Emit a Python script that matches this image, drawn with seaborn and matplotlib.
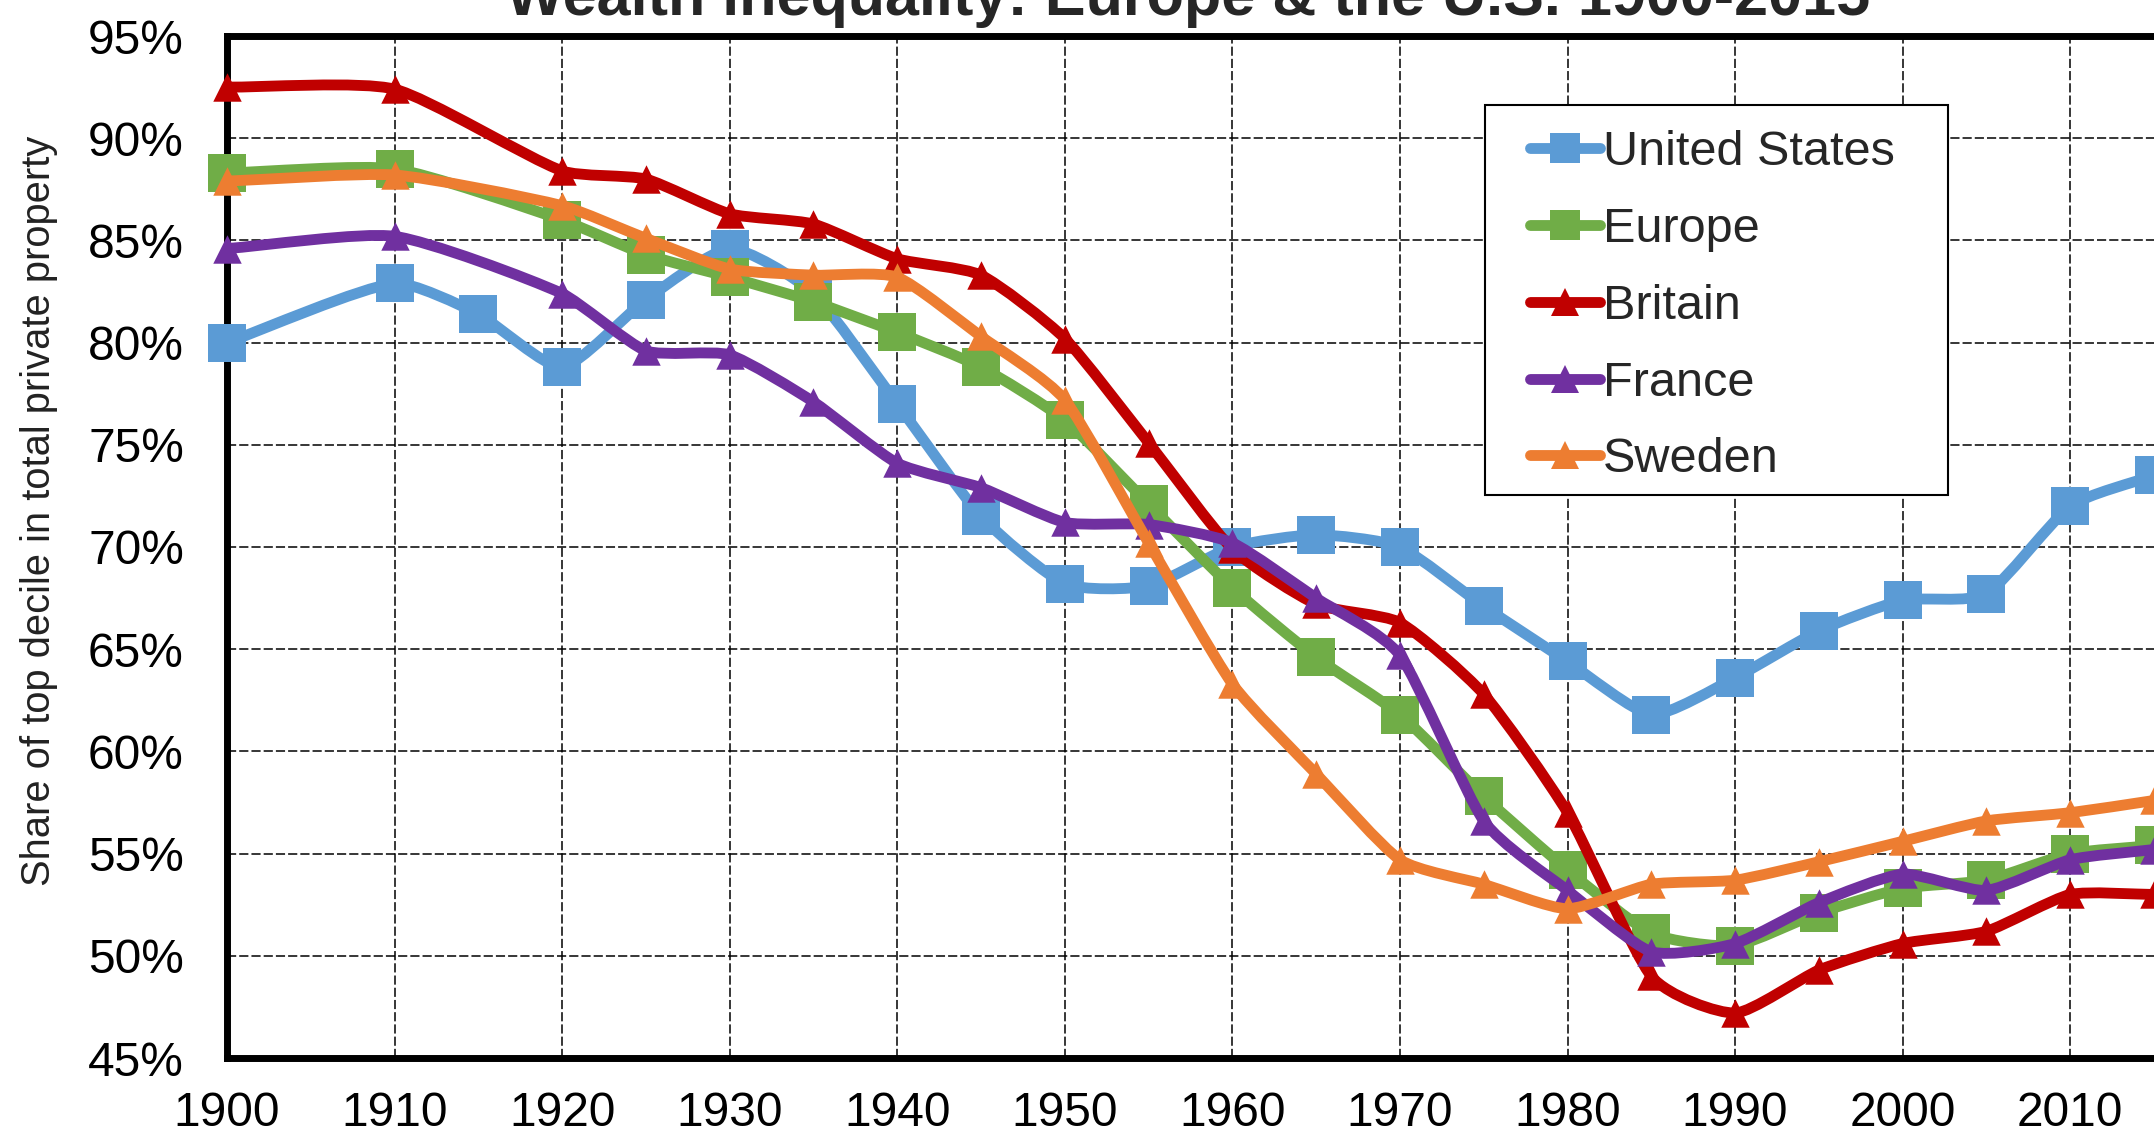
import numpy as np
import pandas as pd
import matplotlib
matplotlib.use("Agg")
import matplotlib.pyplot as plt
from matplotlib.path import Path
from matplotlib.patches import PathPatch, Rectangle
from matplotlib.lines import Line2D
from matplotlib.ticker import FuncFormatter
import seaborn as sns

# ---- data (share of top decile, %) ----
years_us = [1900, 1910, 1915, 1920, 1925, 1930, 1935, 1940, 1945, 1950, 1955, 1960,
            1965, 1970, 1975, 1980, 1985, 1990, 1995, 2000, 2005, 2010, 2015]
united_states = [80.0, 82.9, 81.4, 78.8, 82.1, 84.6, 82.4, 77.0, 71.5, 68.2, 68.1, 70.0,
                 70.6, 70.0, 67.1, 64.4, 61.8, 63.6, 65.9, 67.4, 67.7, 72.0, 73.5]

years = [1900, 1910, 1920, 1925, 1930, 1935, 1940, 1945, 1950, 1955, 1960,
         1965, 1970, 1975, 1980, 1985, 1990, 1995, 2000, 2005, 2010, 2015]
europe = [88.3, 88.5, 86.0, 84.3, 83.2, 82.0, 80.5, 78.8, 76.2, 72.1, 68.0,
          64.6, 61.8, 57.8, 54.2, 51.1, 50.5, 52.1, 53.3, 53.7, 55.0, 55.4]
britain = [92.5, 92.4, 88.4, 88.0, 86.3, 85.8, 84.1, 83.3, 80.2, 75.1, 69.9,
           67.2, 66.3, 62.8, 57.0, 49.0, 47.2, 49.3, 50.6, 51.2, 53.0, 53.0]
france = [84.6, 85.2, 82.4, 79.6, 79.4, 77.1, 74.1, 72.9, 71.2, 71.1, 70.2,
          67.5, 64.7, 56.6, 53.2, 50.2, 50.6, 52.6, 54.0, 53.2, 54.7, 55.2]
sweden = [87.9, 88.2, 86.7, 85.1, 83.6, 83.3, 83.2, 80.3, 77.2, 70.2, 63.3,
          58.9, 54.7, 53.5, 52.3, 53.5, 53.7, 54.6, 55.6, 56.6, 57.0, 57.6]

series = [
    ("United States", years_us, united_states, "#5B9BD5", "s"),
    ("Europe", years, europe, "#70AD47", "s"),
    ("Britain", years, britain, "#C00000", "^"),
    ("France", years, france, "#7030A0", "^"),
    ("Sweden", years, sweden, "#ED7D31", "^"),
]

yticks = [45, 50, 55, 60, 65, 70, 75, 80, 85, 90, 95]
xticks = [1900, 1910, 1920, 1930, 1940, 1950, 1960, 1970, 1980, 1990, 2000, 2010]


def smooth_path(x, y, t=0.6):
    # excel-like smoothed line: cubic bezier through the points
    pts = np.column_stack([x, y]).astype(float)
    n = len(pts)
    verts = [pts[0]]
    codes = [Path.MOVETO]

    def tangent(k):
        a = pts[max(k - 1, 0)]
        b = pts[min(k + 1, n - 1)]
        return (b - a) / (b[0] - a[0])

    for i in range(n - 1):
        h = pts[i + 1][0] - pts[i][0]
        c1 = pts[i] + tangent(i) * h / 3 * t
        c2 = pts[i + 1] - tangent(i + 1) * h / 3 * t
        verts += [c1, c2, pts[i + 1]]
        codes += [Path.CURVE4] * 3
    return Path(verts, codes)


sns.set_style("white")
plt.rcParams['font.family'] = ['Liberation Sans', 'DejaVu Sans']

W, H = 2154, 1137
fig = plt.figure(figsize=(W / 100, H / 100), dpi=100)
ax = fig.add_axes([227 / W, (H - 1058) / H, 1 - 227 / W, (1058 - 36) / H])

lw = 7.8
for i, (name, xs, ys, col, mk) in enumerate(series):
    z = 3 + i
    ax.add_patch(PathPatch(smooth_path(xs, ys), facecolor="none", edgecolor=col,
                           lw=lw, capstyle="round", joinstyle="round", zorder=z))
    size = 720 if mk == "s" else 420
    sns.scatterplot(x=xs, y=ys, ax=ax, marker=mk, s=size, color=col, linewidth=0,
                    clip_on=False, zorder=z, legend=False)

ax.set_xlim(1900, 2015)
ax.set_ylim(45, 95)
ax.set_xticks(xticks)
ax.set_yticks(yticks)
ax.yaxis.set_major_formatter(FuncFormatter(lambda v, p: f"{v:.0f}%"))

ax.set_axisbelow(True)
ax.grid(True, color="black", linestyle=(0, (6, 2)), linewidth=1.1)
for s in ["left", "bottom", "top"]:
    ax.spines[s].set_linewidth(5)
    ax.spines[s].set_color("black")
ax.spines["right"].set_visible(False)

ax.tick_params(axis="both", direction="out", length=11, width=1.5, color="black",
               labelsize=34.5, labelcolor="black")
ax.tick_params(axis="y", pad=20)
ax.tick_params(axis="x", pad=13)
ax.set_xlabel("")
ax.set_ylabel("Share of top decile in total private property", fontsize=28.7,
              color="#222222")
ax.yaxis.set_label_coords(-0.0877, 0.535)

fig.text(0.5515, 1 - 15 / H, "Wealth inequality: Europe & the U.S. 1900-2015",
         ha="center", va="baseline", fontsize=44, fontweight="bold")

# legend box
ax.add_patch(Rectangle((0.653, 0.551), 0.24, 0.381, transform=ax.transAxes,
                       facecolor="white", edgecolor="black", lw=1.5, zorder=9))
handles = [Line2D([0], [0], color=c, lw=lw, marker=m,
                  markersize=22 if m == "s" else 20, markeredgewidth=0)
           for _, _, _, c, m in series]
leg = ax.legend(handles, [s[0] for s in series], loc="upper left",
                bbox_to_anchor=(0.676, 0.908), frameon=False, fontsize=35,
                handlelength=1.45, handletextpad=0.05, labelspacing=0.655,
                borderpad=0, borderaxespad=0)
leg.set_zorder(10)

fig.savefig("out.png", dpi=100)
